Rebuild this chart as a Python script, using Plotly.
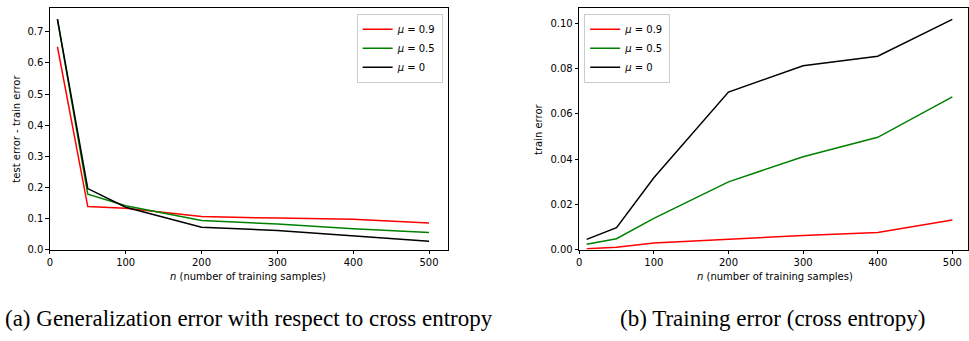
import plotly.graph_objects as go

n_samples = [10, 50, 100, 200, 300, 400, 500]
labels = ["<i>μ</i> = 0.9", "<i>μ</i> = 0.5", "<i>μ</i> = 0"]
colors = ["#ff0000", "#008000", "#000000"]

gen_mu09 = [0.652, 0.138, 0.133, 0.106, 0.101, 0.097, 0.085]
gen_mu05 = [0.740, 0.178, 0.141, 0.093, 0.082, 0.067, 0.055]
gen_mu0 = [0.741, 0.196, 0.136, 0.072, 0.061, 0.044, 0.027]

train_mu09 = [0.0003, 0.0010, 0.0029, 0.0046, 0.0062, 0.0075, 0.0130]
train_mu05 = [0.0023, 0.0048, 0.0138, 0.0299, 0.0410, 0.0496, 0.0675]
train_mu0 = [0.0045, 0.0097, 0.0317, 0.0696, 0.0812, 0.0854, 0.1017]

W, H = 969, 341
fig = go.Figure()

for ys, lab, c in zip([gen_mu09, gen_mu05, gen_mu0], labels, colors):
    fig.add_trace(go.Scatter(x=n_samples, y=ys, mode="lines", name=lab,
                             line=dict(color=c, width=1.5), xaxis="x", yaxis="y",
                             legend="legend"))
for ys, lab, c in zip([train_mu09, train_mu05, train_mu0], labels, colors):
    fig.add_trace(go.Scatter(x=n_samples, y=ys, mode="lines", name=lab,
                             line=dict(color=c, width=1.5), xaxis="x2", yaxis="y2",
                             legend="legend2"))

tickfont = dict(family="DejaVu Sans", size=10, color="#000")
axis_common = dict(showline=True, linecolor="#000", linewidth=1, mirror=True,
                   ticks="outside", ticklen=3.5, tickcolor="#000", tickwidth=1,
                   showgrid=False, zeroline=False, tickfont=tickfont)

legfont = dict(family="DejaVu Sans", size=10, color="#000")
ydom = [87 / H, 333 / H]
fig.update_layout(
    width=W, height=H, margin=dict(l=0, r=0, t=0, b=0),
    paper_bgcolor="white", plot_bgcolor="white",
    xaxis=dict(domain=[47 / W, 446 / W], range=[0, 524.5], tickvals=[0, 100, 200, 300, 400, 500],
               anchor="y", **axis_common),
    yaxis=dict(domain=ydom, range=[0, 0.777], tickvals=[0, 0.1, 0.2, 0.3, 0.4, 0.5, 0.6, 0.7],
               tickformat=".1f", anchor="x", **axis_common),
    xaxis2=dict(domain=[578 / W, 968 / W], range=[0, 521], tickvals=[0, 100, 200, 300, 400, 500],
                anchor="y2", **axis_common),
    yaxis2=dict(domain=ydom, range=[0, 0.1068], tickvals=[0, 0.02, 0.04, 0.06, 0.08, 0.10],
                tickformat=".2f", anchor="x2", **axis_common),
    legend=dict(x=441 / W, y=(H - 14) / H, xanchor="right", yanchor="top",
                bgcolor="rgba(255,255,255,0.8)", bordercolor="#cccccc", borderwidth=1,
                itemwidth=30, font=legfont, tracegroupgap=0),
    legend2=dict(x=583 / W, y=(H - 14) / H, xanchor="left", yanchor="top",
                 bgcolor="rgba(255,255,255,0.8)", bordercolor="#cccccc", borderwidth=1,
                 itemwidth=30, font=legfont, tracegroupgap=0),
    showlegend=True,
)

small = dict(family="DejaVu Sans", size=10, color="#000")
cap = dict(family="Liberation Serif", size=23, color="#000")
ann = [
    dict(text="<i>n</i> (number of training samples)", x=246 / W, y=(H - 281) / H, font=small),
    dict(text="<i>n</i> (number of training samples)", x=774 / W, y=(H - 281) / H, font=small),
    dict(text="test error - train error", x=14 / W, y=(H - 131) / H, font=small, textangle=-90),
    dict(text="train error", x=537 / W, y=(H - 131) / H, font=small, textangle=-90),
    dict(text="(a) Generalization error with respect to cross entropy", x=247 / W, y=(H - 324) / H, font=cap),
    dict(text="(b) Training error (cross entropy)", x=772 / W, y=(H - 324) / H, font=cap),
]
for a in ann:
    fig.add_annotation(xref="paper", yref="paper", showarrow=False,
                       xanchor="center", yanchor="middle", **a)

fig.write_html("out.html")
